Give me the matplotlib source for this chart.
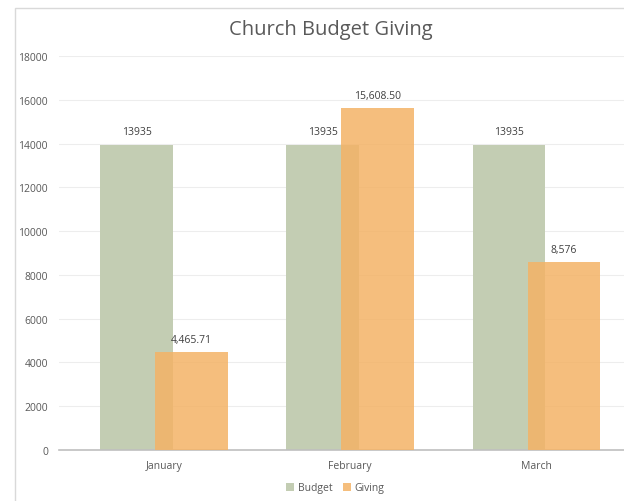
import matplotlib
matplotlib.use('Agg')
import matplotlib.pyplot as plt
from matplotlib.patches import Rectangle

months = ['January', 'February', 'March']
budget = [13935, 13935, 13935]
giving = [4465.71, 15608.50, 8576]
budget_labels = ['13935', '13935', '13935']
giving_labels = ['4,465.71', '15,608.50', '8,576']

plt.rcParams['font.family'] = ['Open Sans', 'DejaVu Sans']
fig = plt.figure(figsize=(6.24, 5.02), dpi=100)
# chart frame
fig.patches.append(Rectangle((15/624, -0.01), 1.0, 1 - 9/502 + 0.01, transform=fig.transFigure,
                             fill=False, edgecolor='#d9d9d9', lw=1))
ax = fig.add_axes([59/624, 1 - 451/502, (624 - 59)/624, (451 - 57)/502])

x = range(len(months))
w = 0.39
off = 0.147
ax.bar([i - off for i in x], budget, width=w, color='#c3cdb3', zorder=2, label='Budget')
ax.bar([i + off for i in x], giving, width=w, color='#f4b366', alpha=0.85, zorder=3, label='Giving')
for i in x:
    ax.text(i - off, budget[i] + 350, budget_labels[i], ha='center', va='bottom', fontsize=7.5, color='#404040')
    ax.text(i + off, giving[i] + 350, giving_labels[i], ha='center', va='bottom', fontsize=7.5, color='#404040')

ax.set_ylim(0, 18000)
ax.set_xlim(-0.563, 2.47)
ax.set_yticks(range(0, 18001, 2000))
ax.set_xticks(list(x))
ax.set_xticklabels(months)
ax.tick_params(axis='both', length=0, labelsize=7.5, colors='#595959')
ax.tick_params(axis='y', pad=8)
ax.tick_params(axis='x', pad=7)
ax.grid(axis='y', color='#ededed', lw=0.8, zorder=0)
for s in ['top', 'right', 'left']:
    ax.spines[s].set_visible(False)
ax.spines['bottom'].set_color('#bfbfbf')
ax.spines['bottom'].set_linewidth(1.2)

fig.text(331/624, 1 - 30/502, 'Church Budget Giving', ha='center', va='center', fontsize=14.5, color='#595959')
fig.legend(loc='center', bbox_to_anchor=(335/624, 1 - 489/502), ncol=2, frameon=False, fontsize=7.5,
           handlelength=0.8, handleheight=0.8, handletextpad=0.3, columnspacing=1.0, labelcolor='#595959')
fig.savefig('out.png', dpi=100)
